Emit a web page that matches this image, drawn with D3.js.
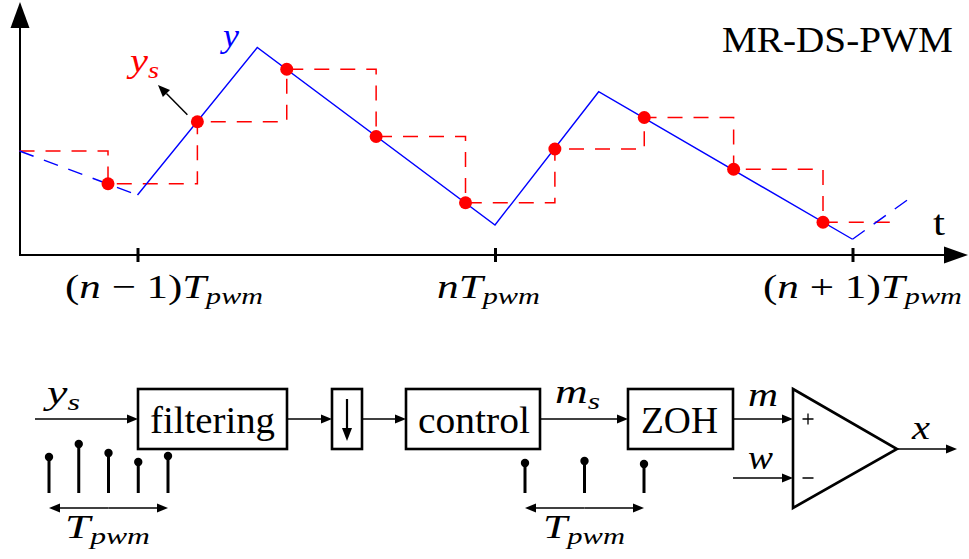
<!DOCTYPE html>
<html>
<head>
    <meta charset="utf-8">
</head>
<body style="margin:0;background:#fff">
<script src="https://d3js.org/d3.v7.min.js"></script>
<script>
    var width = 969,
        height = 559;

    // time in units of Tpwm, t = 0 is (n-1)Tpwm
    var waveT = [-0.33, 0, 0.335, 1.0, 1.29, 2.0, 2.17];
    var waveY = [4.16, 2.4, 8.3, 1.2, 6.53, 0.63, 2.37];
    var sampleT = [-0.0825, 0.1675, 0.4175, 0.6675, 0.9175, 1.1675, 1.4175, 1.6675, 1.9175];
    var sampleY = [2.85, 5.33, 7.43, 4.74, 2.09, 4.24, 5.5, 3.43, 1.31];
    var holdStartT = -0.33, holdStartY = 4.16, holdEndT = 2.133;
    var tickT = [0, 1, 2];
    var tickLabels = ["(n − 1)T_{pwm}", "nT_{pwm}", "(n + 1)T_{pwm}"];

    // sample stems in the block diagram (relative heights)
    var filterStems = [0.72, 0.98, 0.8, 0.62, 0.74];
    var controlStems = [0.6, 0.64, 0.58];
    var blocks = ["filtering", "control", "ZOH"];

    var xs = d3.scaleLinear().domain([0, 2]).range([137.5, 852.5]),
        ys = d3.scaleLinear().domain([0, 10]).range([255, 5]),
        stemH = d3.scaleLinear().domain([0, 1]).range([0, 50]);

    var svg = d3.select('body').append('svg')
            .attr('width', width)
            .attr('height', height);

    // line with a filled arrow head at (x2,y2)
    function arrow(g, x1, y1, x2, y2, len, hw, sw) {
        var a = Math.atan2(y2 - y1, x2 - x1),
            bx = x2 - len * Math.cos(a), by = y2 - len * Math.sin(a);
        g.append('line').attr('x1', x1).attr('y1', y1).attr('x2', bx).attr('y2', by)
                .attr('stroke', '#000').attr('stroke-width', sw);
        g.append('path')
                .attr('d', 'M' + x2 + ',' + y2 +
                        'L' + (bx + hw * Math.sin(a)) + ',' + (by - hw * Math.cos(a)) +
                        'L' + (bx - hw * Math.sin(a)) + ',' + (by + hw * Math.cos(a)) + 'Z')
                .attr('fill', '#000');
    }

    // ---------------- top plot ----------------
    var plot = svg.append('g');

    // ticks through the library axis, crossing the line
    var axis = d3.axisBottom(xs).tickValues(tickT).tickSize(14).tickFormat('');
    var ax = plot.append('g').attr('transform', 'translate(0,' + ys(0) + ')').call(axis);
    ax.select('.domain').remove();
    ax.selectAll('.tick text').remove();
    ax.selectAll('.tick line').attr('y1', -7).attr('y2', 7)
            .attr('stroke', '#000').attr('stroke-width', 3);

    arrow(plot, 20, ys(0), 968, ys(0), 24, 8.5, 2);
    arrow(plot, 20, ys(0) + 1, 20, 2, 26, 9.5, 2);

    var line = d3.line().x(function (d) { return xs(d[0]); }).y(function (d) { return ys(d[1]); });
    var wave = waveT.map(function (t, i) { return [t, waveY[i]]; });

    var hold = [[holdStartT, holdStartY]]
            .concat(sampleT.map(function (t, i) { return [t, sampleY[i]]; }))
            .concat([[holdEndT, sampleY[sampleY.length - 1]]]);

    plot.append('path')
            .attr('d', line.curve(d3.curveStepAfter)(hold))
            .attr('fill', 'none').attr('stroke', '#ff0000')
            .attr('stroke-width', 1.5).attr('stroke-dasharray', '15,11');
    line.curve(d3.curveLinear);

    plot.append('path').attr('d', line(wave.slice(0, 2)))
            .attr('fill', 'none').attr('stroke', '#0000ff').attr('stroke-width', 1.4)
            .attr('stroke-dasharray', '15,11');
    plot.append('path').attr('d', line(wave.slice(1, 6)))
            .attr('fill', 'none').attr('stroke', '#0000ff').attr('stroke-width', 1.4);
    plot.append('path').attr('d', line(wave.slice(5)))
            .attr('fill', 'none').attr('stroke', '#0000ff').attr('stroke-width', 1.4)
            .attr('stroke-dasharray', '15,11');

    plot.selectAll('circle.s')
            .data(sampleT)
            .enter().append('circle')
            .attr('cx', function (d) { return xs(d); })
            .attr('cy', function (d, i) { return ys(sampleY[i]); })
            .attr('r', 6.5)
            .attr('fill', '#ff0000');

    // pointer to y_s
    arrow(plot, xs(sampleT[1]) - 10, ys(sampleY[1]) - 7, 158, 85, 12, 5, 1.5);

    // ---------------- block diagram ----------------
    var bd = svg.append('g');
    var rowY = 419, boxTop = 389, boxH = 60;
    var boxX = [[138, 287], [406, 540], [628, 733]];

    blocks.forEach(function (b, i) {
        bd.append('rect').attr('x', boxX[i][0]).attr('y', boxTop)
                .attr('width', boxX[i][1] - boxX[i][0]).attr('height', boxH)
                .attr('fill', 'none').attr('stroke', '#000').attr('stroke-width', 2.6);
    });

    // downsampler
    bd.append('rect').attr('x', 332).attr('y', boxTop).attr('width', 30).attr('height', boxH)
            .attr('fill', 'none').attr('stroke', '#000').attr('stroke-width', 2.6);
    arrow(bd, 347, 399, 347, 441, 13, 5, 2.2);

    // signal flow
    arrow(bd, 35, rowY, 138, rowY, 11, 4.5, 1.5);
    arrow(bd, 287, rowY, 332, rowY, 11, 4.5, 1.5);
    arrow(bd, 362, rowY, 406, rowY, 11, 4.5, 1.5);
    arrow(bd, 540, rowY, 628, rowY, 11, 4.5, 1.5);
    arrow(bd, 733, rowY, 793, rowY, 11, 4.5, 1.5);
    arrow(bd, 733, 478, 793, 478, 11, 4.5, 1.5);
    arrow(bd, 897, 449, 957, 449, 11, 4.5, 1.5);

    // comparator
    bd.append('path').attr('d', 'M793,389L897,449L793,508Z')
            .attr('fill', 'none').attr('stroke', '#000').attr('stroke-width', 2.6)
            .attr('stroke-linejoin', 'miter');
    bd.append('path').attr('d', 'M802.5,419H813.5M808,413.5V424.5M802.5,478H813.5')
            .attr('stroke', '#000').attr('stroke-width', 1.3);

    // sample stems
    var stemBase = 493;
    function stems(vals, x0, step) {
        vals.forEach(function (v, i) {
            var sx = x0 + i * step, sy = stemBase - stemH(v);
            bd.append('line').attr('x1', sx).attr('x2', sx).attr('y1', stemBase).attr('y2', sy)
                    .attr('stroke', '#000').attr('stroke-width', 3);
            bd.append('circle').attr('cx', sx).attr('cy', sy).attr('r', 4.2).attr('fill', '#000');
        });
        var x1 = x0, x2 = x0 + (vals.length - 1) * step;
        arrow(bd, (x1 + x2) / 2, 508, x2, 508, 11, 4.5, 1.5);
        arrow(bd, (x1 + x2) / 2, 508, x1, 508, 11, 4.5, 1.5);
    }
    stems(filterStems, 49, 29.75);
    stems(controlStems, 525, 59.5);

    // ---------------- all text, drawn last, straight into the svg ----------------
    function fit(t, x0, w) {
        var cw = t.node().getComputedTextLength();
        if (w && cw > 0) {
            t.attr('transform', 'translate(' + x0 + ',0) scale(' + (w / cw) + ',1) translate(' + (-x0) + ',0)');
        }
        return t;
    }

    // letters italic, the rest upright, _{..} as subscript
    function math(str, x0, y0, size, w, color) {
        var t = svg.append('text').attr('x', x0).attr('y', y0)
                .attr('fill', color || '#000')
                .attr('font-family', 'Liberation Serif')
                .attr('font-size', size);
        var re = /_\{([^}]*)\}|([A-Za-z]+)|([^A-Za-z_]+)/g, m, inSub = false;
        while ((m = re.exec(str))) {
            var ts = t.append('tspan');
            if (m[1] !== undefined) {
                ts.text(m[1]).attr('font-size', size * 0.7).attr('font-style', 'italic')
                        .attr('dy', size * 0.18);
                inSub = true;
            } else {
                ts.text((m[2] || m[3]).replace(/ /g, '\u00a0'))
                        .attr('font-style', m[2] ? 'italic' : 'normal');
                if (inSub) { ts.attr('dy', -size * 0.18); inSub = false; }
            }
        }
        return fit(t, x0, w);
    }

    function roman(str, x0, y0, size, w) {
        var t = svg.append('text').attr('x', x0).attr('y', y0)
                .attr('font-family', 'Liberation Serif')
                .attr('font-size', size).text(str);
        return fit(t, x0, w);
    }

    math('y', 223, 47, 34, 16, '#0000ff');
    math('y_{s}', 130, 72, 34, 29, '#ff0000');
    roman('MR-DS-PWM', 722, 52, 35, 231);
    roman('t', 933, 235, 35, 12);

    var labelX = [65, 437, 763], labelW = [198, 103, 199];
    tickLabels.forEach(function (s, i) {
        math(s, labelX[i], 298, 34, labelW[i]);
    });

    var boxTextX = [[150, 125], [418, 112], [641, 77]];
    blocks.forEach(function (b, i) {
        roman(b, boxTextX[i][0], 433, 38, boxTextX[i][1]);
    });

    math('y_{s}', 47, 404, 34, 33);
    math('m_{s}', 555, 403, 34, 45);
    math('m', 748, 406, 34, 30);
    math('w', 748, 469, 34, 25);
    math('x', 912, 439, 34, 18);
    math('T_{pwm}', 65, 538, 34, 85);
    math('T_{pwm}', 543, 538, 34, 82);
</script>
</body>
</html>
